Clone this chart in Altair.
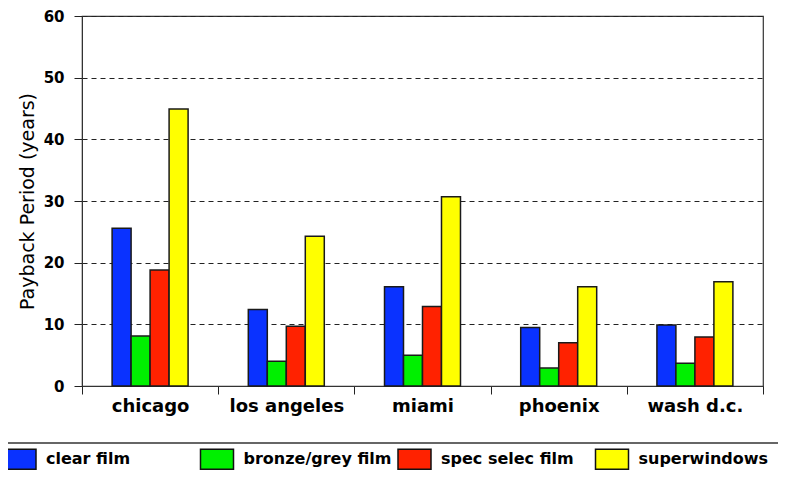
import altair as alt
import pandas as pd

cities = ["chicago", "los angeles", "miami", "phoenix", "wash d.c."]
series = ["clear film", "bronze/grey film", "spec selec film", "superwindows"]
clear_film = [25.6, 12.4, 16.1, 9.5, 9.9]
bronze_grey_film = [8.1, 4.0, 5.0, 2.9, 3.7]
spec_selec_film = [18.8, 9.7, 12.9, 7.0, 7.95]
superwindows = [44.9, 24.3, 30.7, 16.1, 16.9]
colors = ["#0A32FF", "#00F000", "#FF2200", "#FFFF00"]
y_ticks = [0, 10, 20, 30, 40, 50, 60]

rows = []
for s, vals in zip(series, [clear_film, bronze_grey_film, spec_selec_film, superwindows]):
    for c, v in zip(cities, vals):
        rows.append({"city": c, "series": s, "years": v})
df = pd.DataFrame(rows)

# empty slots either side of each group, so the four bars sit centred and narrow
offset_domain = ["_gap_left"] + series + ["_gap_right"]

swatch = "M-1,-0.606L1,-0.606L1,0.606L-1,0.606Z"

bars = alt.Chart(df).mark_bar(stroke="#1a1a1a", strokeWidth=1.5, opacity=1).encode(
    x=alt.X(
        "city:N", sort=cities,
        scale=alt.Scale(paddingInner=0, paddingOuter=0),
        axis=alt.Axis(
            title=None, labelAngle=0, tickBand="extent", tickSize=8,
            tickColor="#222", domainColor="#333", labelFont="DejaVu Sans",
            labelFontWeight="bold", labelFontSize=18, labelColor="black",
            labelPadding=3, grid=False,
        ),
    ),
    xOffset=alt.XOffset("series:N",
                        scale=alt.Scale(domain=offset_domain, paddingInner=0, paddingOuter=0.585)),
    y=alt.Y(
        "years:Q",
        scale=alt.Scale(domain=[0, 60], nice=False),
        axis=alt.Axis(
            values=y_ticks, title="Payback Period (years)", grid=True,
            gridDash=[5, 4], gridColor="#222", gridWidth=1, tickSize=8,
            tickColor="#222", domainColor="#333", labelFont="DejaVu Sans",
            labelFontWeight="bold", labelFontSize=15, labelColor="black",
            labelPadding=10, titleFont="DejaVu Sans", titleFontSize=19,
            titleFontWeight="normal", titleColor="black", titlePadding=6,
        ),
    ),
    color=alt.Color(
        "series:N", sort=series,
        scale=alt.Scale(domain=series, range=colors),
        legend=alt.Legend(
            title=None, orient="none", legendX=-80, legendY=425.5,
            direction="horizontal", columns=4, gridAlign="all",
            columnPadding=3.5, padding=0, symbolType=swatch, symbolSize=1089,
            symbolStrokeColor="#111", symbolStrokeWidth=1.5, symbolOpacity=1,
            labelFont="DejaVu Sans", labelFontWeight="bold", labelFontSize=16,
            labelColor="black", labelOffset=9, labelLimit=300,
        ),
    ),
)

sep = alt.Chart(pd.DataFrame({"k": [0]})).mark_rule(color="#333", strokeWidth=1.5).encode(
    x=alt.value(-74), x2=alt.value(696), y=alt.value(427)
)

chart = alt.layer(bars, sep).properties(
    width=681, height=370,
    autosize=alt.AutoSizeParams(type="none"),
    padding={"left": 74, "top": 8, "right": 15, "bottom": 84},
).configure_view(stroke="#333", strokeWidth=1.2)

chart.save("out.html", embed_options={"renderer": "svg", "actions": False})
